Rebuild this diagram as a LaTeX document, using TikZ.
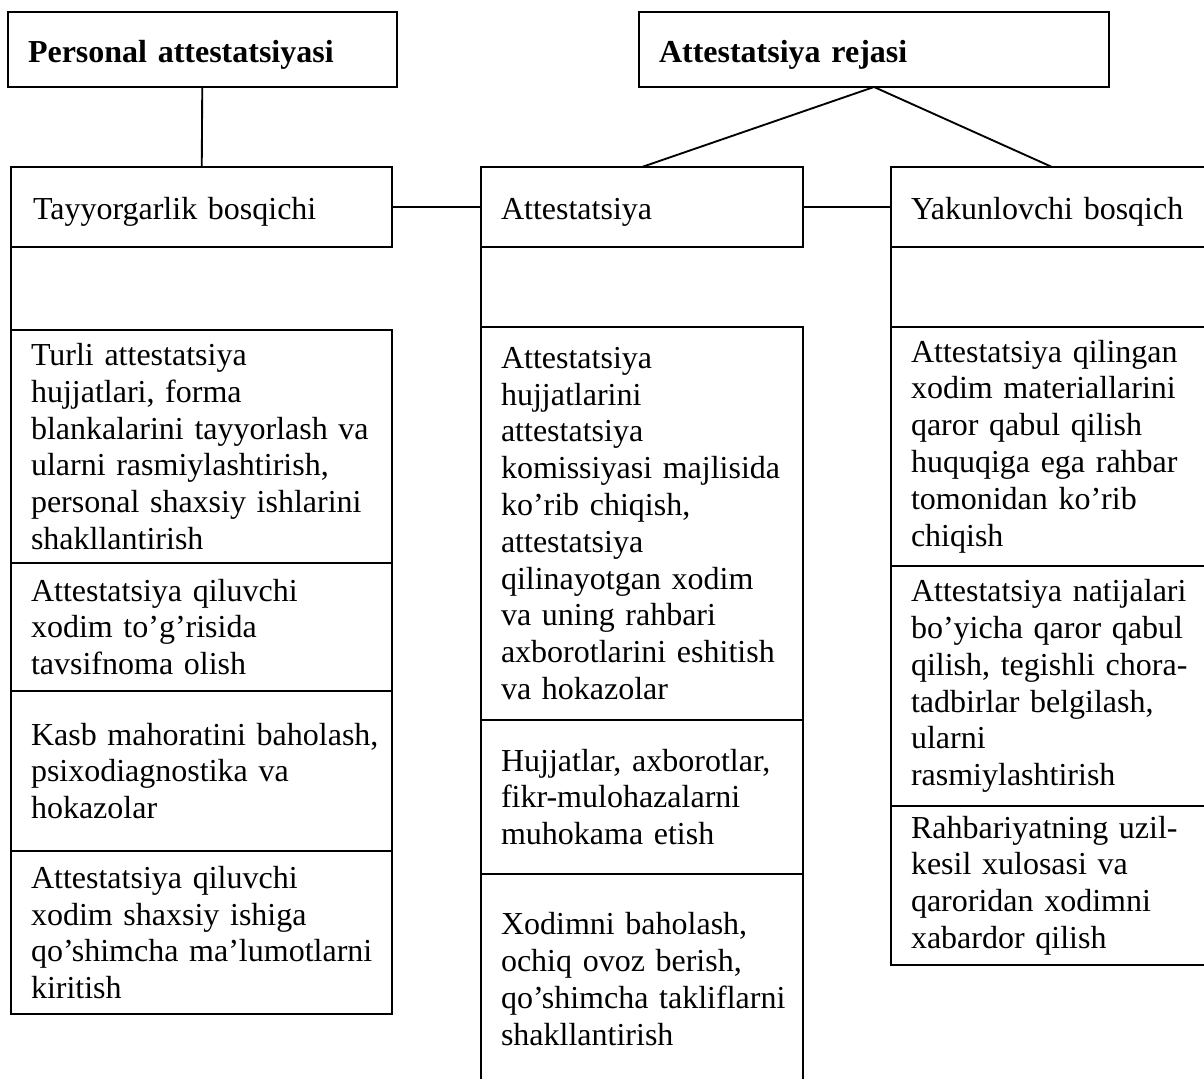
\documentclass[tikz,border=0pt]{standalone}
\usepackage{fontspec}
\setmainfont{Liberation Serif}
\usetikzlibrary{positioning}
\tikzstyle{box} = [draw, line width=0.7pt, outer sep=0pt, inner ysep=0pt, inner xsep=7.5pt, align=left, font=\fontsize{12}{13.8}\selectfont]
\tikzstyle{wide} = [box, text width=127.875pt]
\tikzstyle{narrow} = [box, text width=105.75pt]
\tikzstyle{head} = [box, anchor=north west, minimum height=28.125pt, text height=9.4pt, text depth=0pt, font=\fontsize{12}{13.8}\selectfont\bfseries]
\tikzstyle{stage} = [box, anchor=north west, minimum height=30pt, text height=9.75pt, text depth=0pt]
\tikzstyle{link} = [line width=0.7pt]

\begin{document}
\begin{tikzpicture}[x=0.375pt, y=-0.375pt]
    \useasboundingbox (0,0) rectangle (1204,1079);

    \node (pa) [head, text width=130.875pt] at (8,12) {Personal attestatsiyasi};
    \node (rj) [head, text width=161.25pt] at (639,12) {Attestatsiya rejasi};

    \node (tay) [stage, text width=126.375pt, inner xsep=8.25pt] at (11,167) {Tayyorgarlik bosqichi};
    \node (att) [stage, text width=105.75pt] at (481,167) {Attestatsiya};
    \node (yak) [stage, text width=105.75pt] at (891,167) {Yakunlovchi bosqich};

    \draw [link] (pa) -- (tay);
    \draw [link] (rj.south) -- (att.north);
    \draw [link] (rj.south) -- (yak.north);
    \draw [link] (tay) -- (att);
    \draw [link] (att) -- (yak);

    % tayyorgarlik
    \node (l1) [wide, minimum height=87.375pt, below=31.125pt of tay] {Turli attestatsiya\\hujjatlari, forma\\\mbox{blankalarini tayyorlash va}\\ularni rasmiylashtirish,\\personal shaxsiy ishlarini\\shakllantirish};
    \node (l2) [wide, minimum height=48pt, below=0pt of l1] {Attestatsiya qiluvchi\\xodim to’g’risida\\tavsifnoma olish};
    \node (l3) [wide, minimum height=60pt, below=0pt of l2] {\mbox{Kasb mahoratini baholash,}\\psixodiagnostika va\\hokazolar};
    \node (l4) [wide, minimum height=61.125pt, below=0pt of l3] {Attestatsiya qiluvchi\\xodim shaxsiy ishiga\\\mbox{qo’shimcha ma’lumotlarni}\\kiritish};
    \draw [link] (tay.south west) -- (l1.north west);

    % attestatsiya
    \node (m1) [narrow, minimum height=147.375pt, below=30pt of att] {Attestatsiya\\hujjatlarini\\attestatsiya\\\mbox{komissiyasi majlisida}\\ko’rib chiqish,\\attestatsiya\\qilinayotgan xodim\\va uning rahbari\\\mbox{axborotlarini eshitish}\\va hokazolar};
    \node (m2) [narrow, minimum height=57.75pt, below=0pt of m1] {Hujjatlar, axborotlar,\\fikr-mulohazalarni\\muhokama etish};
    \node (m3) [narrow, minimum height=78.75pt, below=0pt of m2] {Xodimni baholash,\\ochiq ovoz berish,\\\mbox{qo’shimcha takliflarni}\\shakllantirish};
    \draw [link] (att.south west) -- (m1.north west);

    % yakunlovchi
    \node (gap) [narrow, minimum height=30pt, below=0pt of yak] {};
    \node (r1) [narrow, minimum height=89.625pt, below=0pt of gap] {Attestatsiya qilingan\\xodim materiallarini\\qaror qabul qilish\\huquqiga ega rahbar\\tomonidan ko’rib\\chiqish};
    \node (r2) [narrow, minimum height=90pt, below=0pt of r1] {\mbox{Attestatsiya natijalari}\\bo’yicha qaror qabul\\\mbox{qilish, tegishli chora-}\\tadbirlar belgilash,\\ularni\\rasmiylashtirish};
    \node (r3) [narrow, minimum height=59.625pt, below=0pt of r2] {Rahbariyatning uzil-\\kesil xulosasi va\\qaroridan xodimni\\xabardor qilish};

  \end{tikzpicture}
\end{document}
